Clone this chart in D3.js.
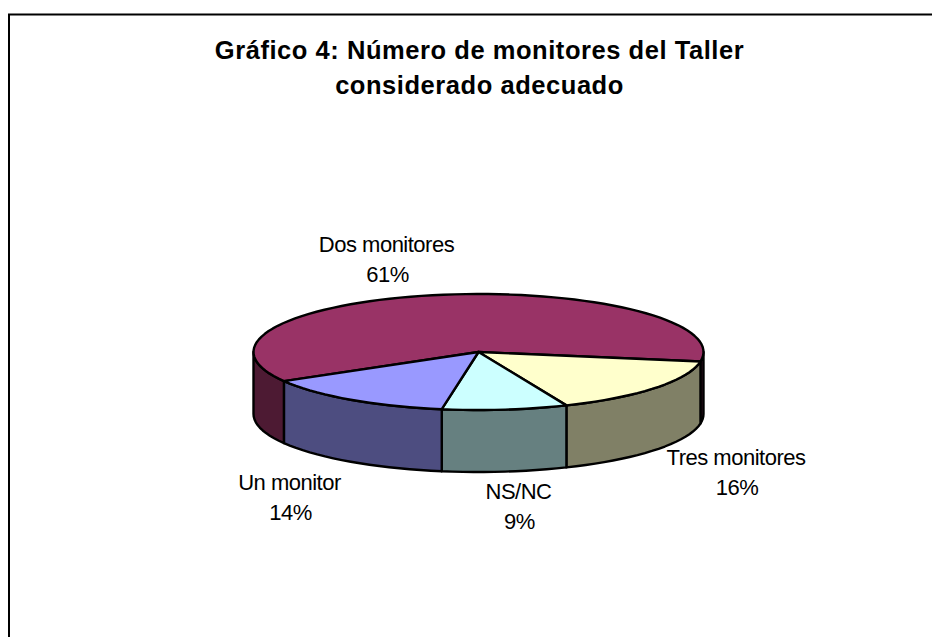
<!DOCTYPE html>
<html><head><meta charset="utf-8">
<script src="https://cdn.jsdelivr.net/npm/d3@7/dist/d3.min.js"></script>
<style>html,body{margin:0;padding:0;background:#fff}svg{display:block}</style>
</head><body><svg id="c" width="932" height="637"></svg>
<script>
const categories = ["Dos monitores","Tres monitores","NS/NC","Un monitor"];
const values = [61,16,9,14];
const topColors = ["#993366","#ffffcc","#ccffff","#9999ff"];
const wallColors = ["#4d1a33","#808066","#668080","#4d4d80"];
const titleLines = ["Gráfico 4: Número de monitores del Taller","considerado adecuado"];
const labelPos = [[386.5,252],[736,465],[518.5,499],[289.5,490]];

const cx=478.5,cy=352,rx=225,ry=58,depth=62;
const svg=d3.select("#c");
svg.append("rect").attr("x",9).attr("y",14.5).attr("width",1000).attr("height",700)
  .attr("fill","#fff").attr("stroke","#000").attr("stroke-width",2);
const t0=239.8*Math.PI/180;
const pie=d3.pie().sort(null).startAngle(t0).endAngle(t0+2*Math.PI);
const arcs=pie(values);
const sx=d3.scaleLinear().domain([-1,1]).range([cx-rx,cx+rx]);
const sy=d3.scaleLinear().domain([-1,1]).range([cy-ry,cy+ry]);
const P=(a,dz=0)=>[sx(Math.sin(a)),sy(-Math.cos(a))+dz];
const samples=(a,b)=>{const n=Math.max(2,Math.ceil(Math.abs(b-a)/0.05));return d3.range(n+1).map(i=>a+(b-a)*i/n)};
const line=d3.line();
function frontRanges(a,b){const out=[];for(const k of [0,1,2]){const lo=Math.PI/2+2*Math.PI*(k-1),hi=lo+Math.PI;const s=Math.max(a,lo),e=Math.min(b,hi);if(e>s)out.push([s,e]);}return out;}
const g=svg.append("g").attr("stroke","#000").attr("stroke-width",2.4).attr("stroke-linejoin","round");
arcs.forEach((d,i)=>{
  frontRanges(d.startAngle,d.endAngle).forEach(([s,e])=>{
    const ang=samples(s,e);
    const pts=ang.map(a=>P(a)).concat(ang.slice().reverse().map(a=>P(a,depth)));
    g.append("path").attr("d",line(pts)+"Z").attr("fill",wallColors[i]);
  });
});
arcs.forEach((d,i)=>{
  const pts=[[cx,cy]].concat(samples(d.startAngle,d.endAngle).map(a=>P(a)));
  g.append("path").attr("d",line(pts)+"Z").attr("fill",topColors[i]);
});
const font="'Liberation Sans',Arial,sans-serif";
const tg=svg.append("g").attr("font-family",font).attr("text-anchor","middle").attr("fill","#000");
titleLines.forEach((t,i)=>tg.append("text").attr("x",479.5).attr("y",59+i*35).attr("font-size",25.5).attr("letter-spacing",0.55).attr("font-weight","bold").text(t));
categories.forEach((c,i)=>{
  const [x,y]=labelPos[i];
  tg.append("text").attr("x",x).attr("y",y).attr("font-size",22).attr("letter-spacing",-0.5).text(c);
  tg.append("text").attr("x",x+1).attr("y",y+30).attr("font-size",22).attr("letter-spacing",-0.5).text(values[i]+"%");
});
</script></body></html>
